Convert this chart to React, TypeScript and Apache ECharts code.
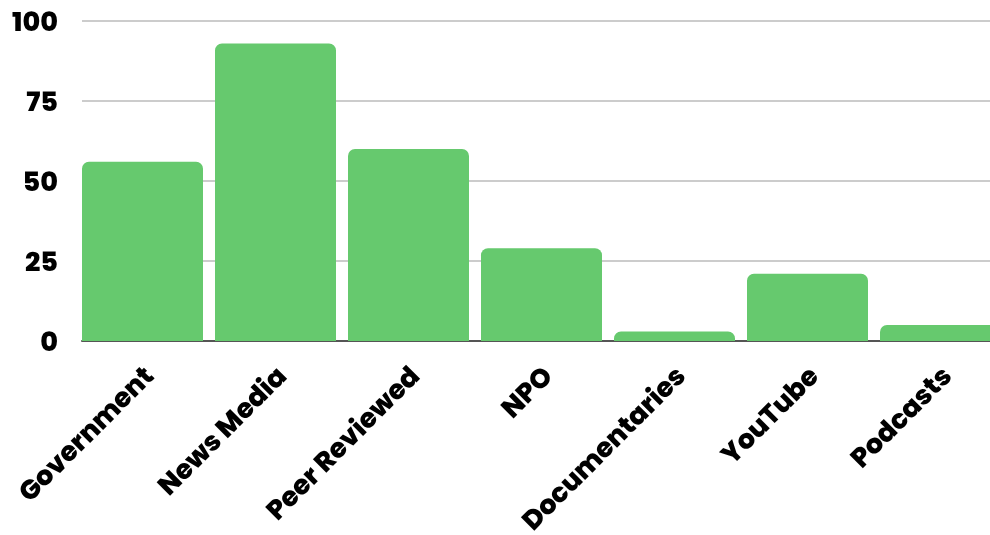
import React, { useEffect, useRef } from "react";
import * as echarts from "echarts";

const categories = ["Government", "News Media", "Peer Reviewed", "NPO", "Documentaries", "YouTube", "Podcasts"];
const values = [56, 93, 60, 29, 3, 21, 5];
const yTicks = { min: 0, max: 100, interval: 25 };

export default function App() {
  const ref = useRef<HTMLDivElement>(null);
  useEffect(() => {
    if (!ref.current) return;
    const chart = echarts.init(ref.current, undefined, { renderer: "svg" });
    const font = "Poppins, Inter, 'Noto Sans', sans-serif";
    chart.setOption({
      animation: false,
      grid: { left: 82, width: 931, top: 21, height: 320, containLabel: false, outerBoundsMode: "none" },
      xAxis: {
        type: "category",
        data: categories,
        axisLine: { show: true, lineStyle: { color: "#555555", width: 2 } },
        axisTick: { show: false },
        axisLabel: {
          rotate: 45,
          interval: 0,
          margin: 30,
          color: "#000000",
          fontFamily: font,
          fontWeight: 800,
          fontSize: 27,
        },
      },
      yAxis: {
        type: "value",
        min: yTicks.min,
        max: yTicks.max,
        interval: yTicks.interval,
        axisLine: { show: false },
        axisTick: { show: false },
        splitLine: { lineStyle: { color: "#bbbbbb", width: 1.5 } },
        axisLabel: {
          margin: 24,
          color: "#000000",
          fontFamily: font,
          fontWeight: 800,
          fontSize: 27,
        },
      },
      series: [
        {
          type: "bar",
          data: values,
          barWidth: 121,
          barGap: 0,
          barCategoryGap: 0,
          itemStyle: { color: "#66c96e", borderRadius: [7, 7, 0, 0] },
        },
        {
          type: "bar",
          data: [],
          barWidth: 12,
          barGap: 0,
          silent: true,
          itemStyle: { color: "transparent" },
        },
      ],
    });
    return () => chart.dispose();
  }, []);
  return <div ref={ref} style={{ position: "fixed", left: 0, top: 0, width: 990, height: 535 }} />;
}
